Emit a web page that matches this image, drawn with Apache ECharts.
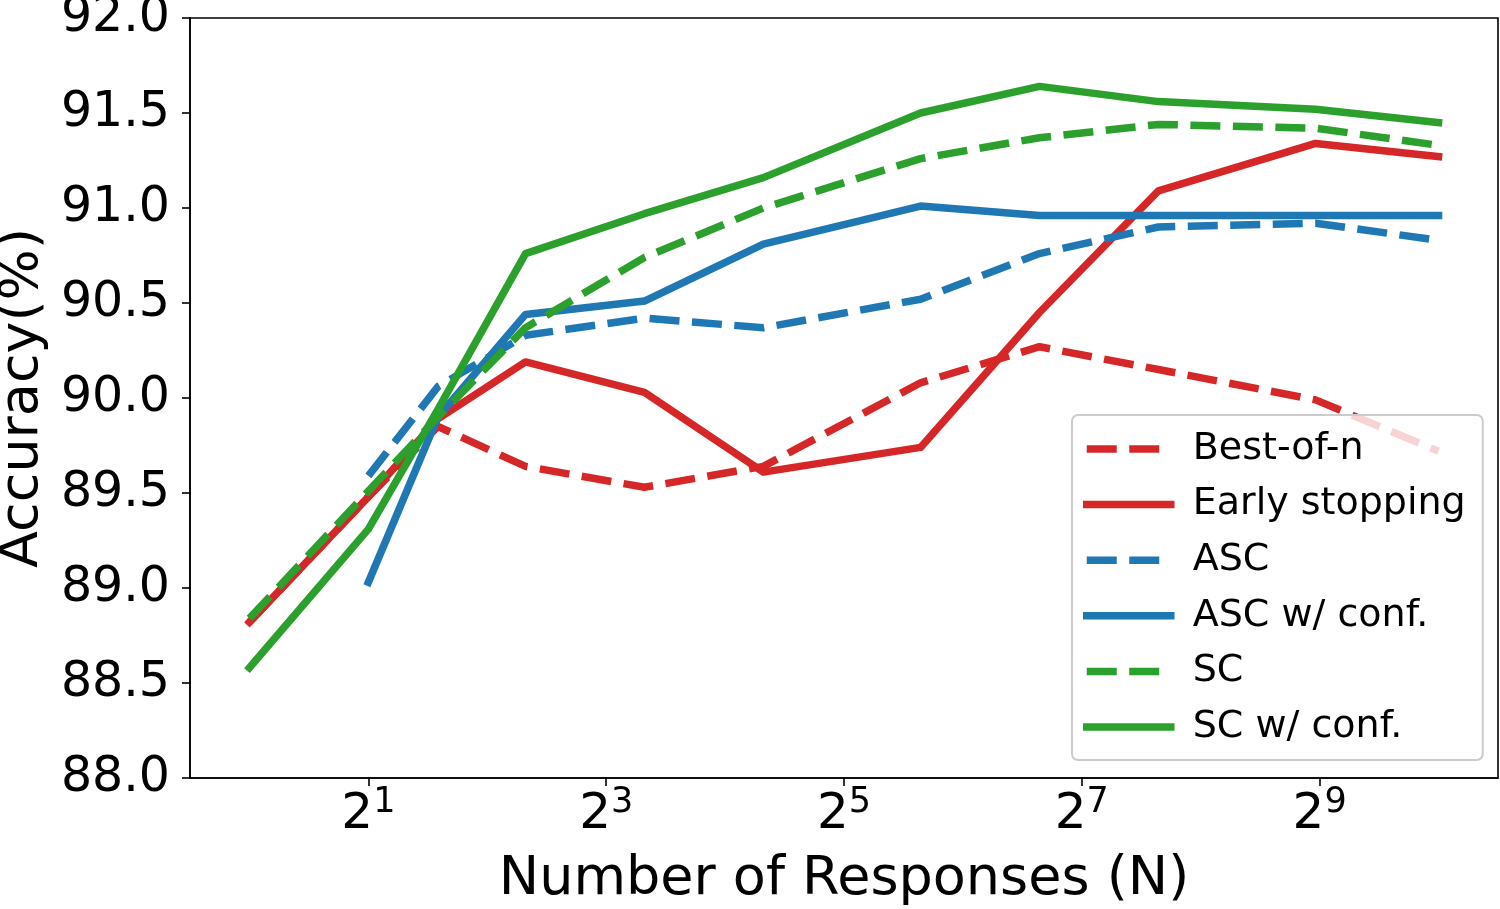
<!DOCTYPE html>
<html>
<head>
<meta charset="utf-8">
<script src="https://cdn.jsdelivr.net/npm/echarts@6/dist/echarts.min.js"></script>
<style>
html,body{margin:0;padding:0;background:#fff;}
#chart{width:1500px;height:909px;}
</style>
</head>
<body>
<div id="chart"></div>
<script>
// ---- data ----
const responsesN = [1, 2, 3, 5, 10, 20, 50, 100, 200, 500, 1024];
const bestOfN      = [88.82, 89.48, 89.85, 89.64, 89.53, 89.64, 90.08, 90.27, 90.15, 89.99, 89.72];
const earlyStop    = [88.82, 89.48, 89.89, 90.19, 90.03, 89.61, 89.74, 90.45, 91.09, 91.34, 91.27];
const ascVals      = [null, 89.59, 90.06, 90.33, 90.42, 90.37, 90.52, 90.76, 90.90, 90.92, 90.83];
const ascConfVals  = [null, 89.03, 89.90, 90.44, 90.51, 90.81, 91.01, 90.96, 90.96, 90.96, 90.96];
const scVals       = [88.84, 89.51, 89.90, 90.37, 90.74, 91.00, 91.26, 91.37, 91.44, 91.42, 91.33];
const scConfVals   = [88.58, 89.31, 89.94, 90.76, 90.97, 91.16, 91.50, 91.64, 91.56, 91.52, 91.45];
const xTickValues  = [2, 8, 32, 128, 512];
const seriesNames  = ['Best-of-n', 'Early stopping', 'ASC', 'ASC w/ conf.', 'SC', 'SC w/ conf.'];

const RED = '#d62728', BLUE = '#1f77b4', GREEN = '#2ca02c';
const FONT = 'DejaVu Sans';
const LW = 7.5;
const DASH = [30, 12.5];

function pairs(vals) {
  const out = [];
  responsesN.forEach((n, i) => { if (vals[i] != null) out.push([n, vals[i]]); });
  return out;
}
function mk(name, vals, color, dashed) {
  return {
    name: name,
    type: 'line',
    data: pairs(vals),
    symbol: 'none',
    showSymbol: false,
    silent: true,
    animation: false,
    lineStyle: {
      color: color,
      width: LW,
      type: dashed ? DASH : 'solid',
      cap: dashed ? 'butt' : 'square',
      join: 'round'
    },
    itemStyle: { color: color }
  };
}

const chart = echarts.init(document.getElementById('chart'), null, { renderer: 'canvas' });
chart.setOption({
  animation: false,
  backgroundColor: '#ffffff',
  textStyle: { fontFamily: FONT, color: '#000' },
  grid: {
    left: 190, right: 2, top: 18, bottom: 131,
    containLabel: false,
    outerBoundsMode: 'none',
    show: true, borderColor: '#000', borderWidth: 1.6, backgroundColor: 'transparent'
  },
  xAxis: {
    type: 'log',
    logBase: 2,
    min: Math.pow(2, -0.5),
    max: Math.pow(2, 10.5),
    name: 'Number of Responses (N)',
    nameLocation: 'middle',
    nameGap: 75,
    nameTextStyle: { fontFamily: FONT, fontSize: 54, color: '#000', lineHeight: 54 },
    axisLine: { show: true, lineStyle: { color: '#000', width: 1.6 } },
    axisTick: { show: true, inside: false, length: 8, lineStyle: { color: '#000', width: 1.6 }, customValues: xTickValues },
    minorTick: { show: false },
    splitLine: { show: false },
    minorSplitLine: { show: false },
    axisLabel: {
      customValues: xTickValues,
      margin: 12,
      formatter: function (v) {
        const e = Math.round(Math.log2(v));
        return '{b|2}{s|' + e + '}';
      },
      rich: {
        b: { fontFamily: FONT, fontSize: 50, lineHeight: 50, color: '#000' },
        s: { fontFamily: FONT, fontSize: 35, lineHeight: 25, color: '#000', padding: [0, 0, 25, 0] }
      }
    }
  },
  yAxis: {
    type: 'value',
    min: 88,
    max: 92,
    interval: 0.5,
    name: 'Accuracy(%)',
    nameLocation: 'middle',
    nameRotate: 90,
    nameGap: 136,
    nameTextStyle: { fontFamily: FONT, fontSize: 54, color: '#000', lineHeight: 54 },
    axisLine: { show: true, lineStyle: { color: '#000', width: 1.6 } },
    axisTick: { show: true, inside: false, length: 8, lineStyle: { color: '#000', width: 1.6 } },
    splitLine: { show: false },
    axisLabel: {
      margin: 20,
      fontFamily: FONT, fontSize: 49, color: '#000',
      formatter: function (v) { return v.toFixed(1); }
    }
  },
  legend: {
    orient: 'vertical',
    left: 1072,
    top: 415,
    data: seriesNames,
    itemWidth: 84,
    itemHeight: 14,
    itemGap: 11.6,
    padding: [12, 17, 11, 11],
    backgroundColor: 'rgba(255,255,255,0.8)',
    borderColor: '#cccccc',
    borderWidth: 2,
    borderRadius: 6,
    selectedMode: false,
    itemStyle: { color: 'transparent', borderColor: 'transparent', borderWidth: 0, opacity: 0 },
    lineStyle: { width: 'inherit', type: 'inherit', color: 'inherit' },
    textStyle: { fontFamily: FONT, fontSize: 38, color: '#000', lineHeight: 44, padding: [0, 0, 0, 17] }
  },
  series: [
    mk(seriesNames[0], bestOfN, RED, true),
    mk(seriesNames[1], earlyStop, RED, false),
    mk(seriesNames[2], ascVals, BLUE, true),
    mk(seriesNames[3], ascConfVals, BLUE, false),
    mk(seriesNames[4], scVals, GREEN, true),
    mk(seriesNames[5], scConfVals, GREEN, false)
  ]
});
</script>
</body>
</html>
